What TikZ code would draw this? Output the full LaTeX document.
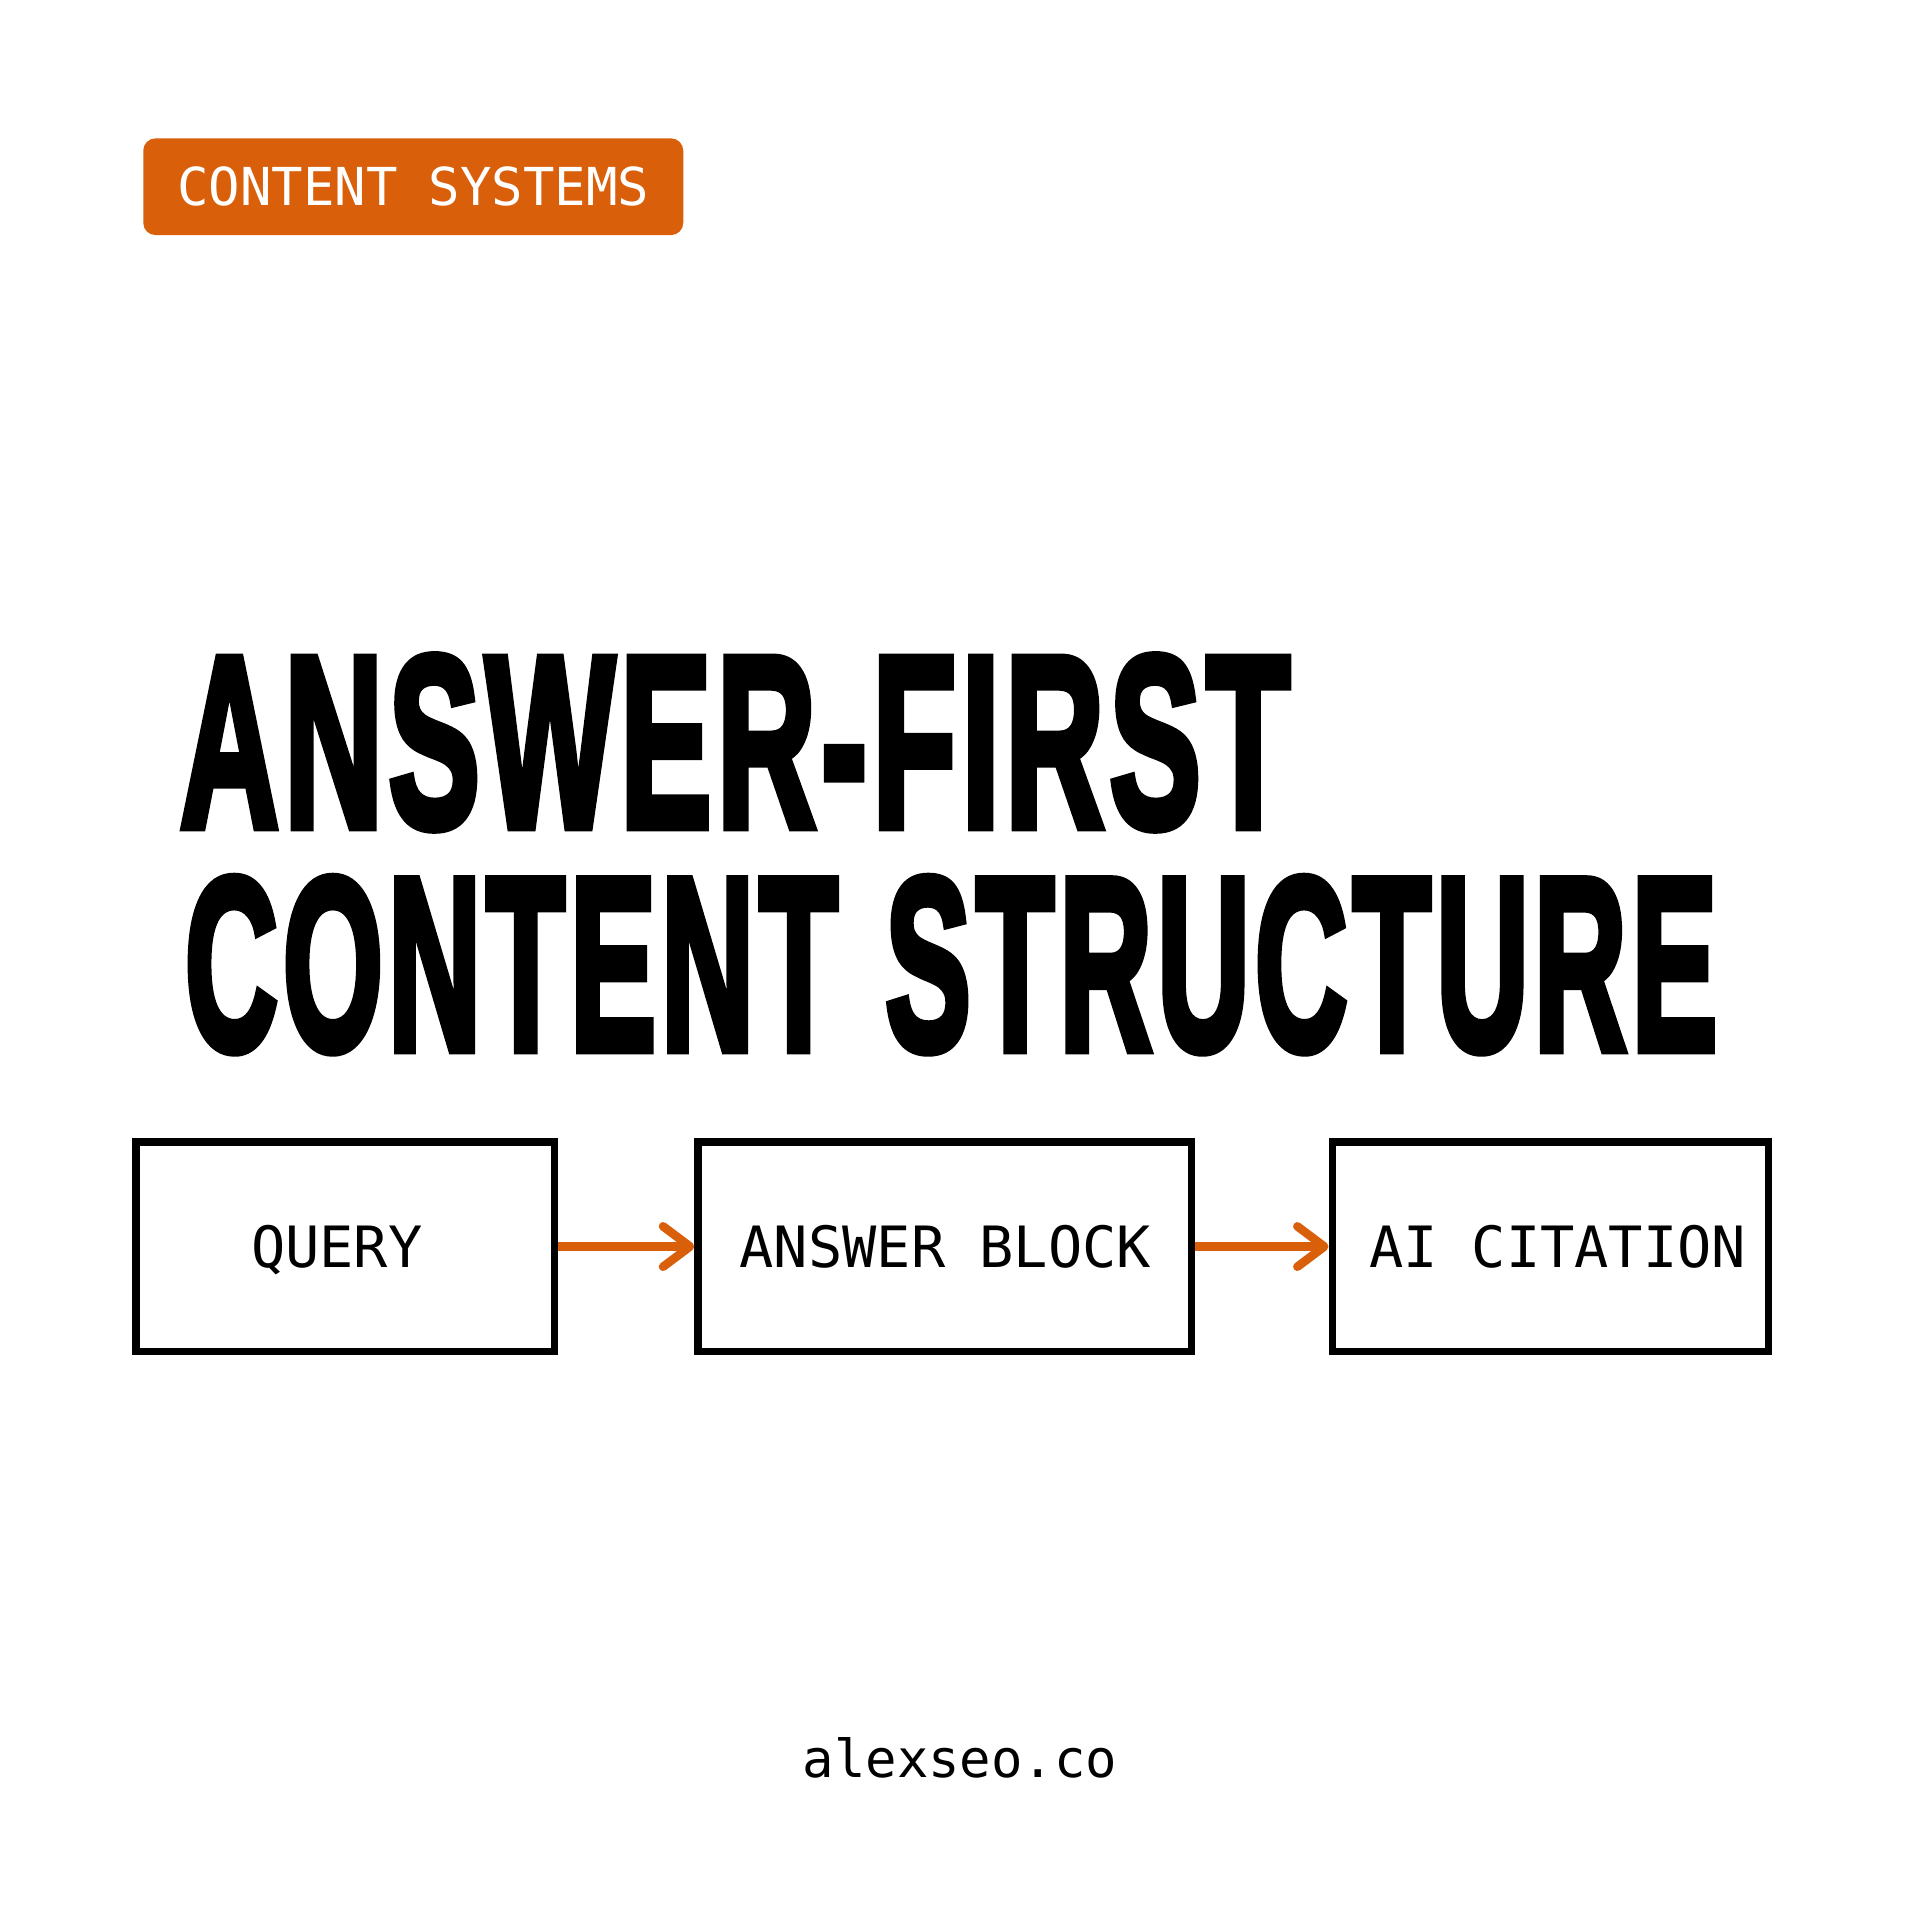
\documentclass[tikz,border=0pt]{standalone}
\usepackage{fontspec}
\usepackage{graphicx}
\usetikzlibrary{arrows.meta}
\newfontfamily\monofont{DejaVu Sans Mono}
\newfontfamily\titlefont{Liberation Sans}[BoldFeatures={FakeBold=4}, LetterSpace=4]
\definecolor{accent}{HTML}{D95F0B}
\tikzset{
  tagbox/.style={fill=accent, rounded corners=10pt, minimum width=441pt, minimum height=79pt,
    inner sep=0pt, text=white, font=\monofont\fontsize{42.7pt}{50pt}\selectfont},
  titletext/.style={inner sep=0pt, outer sep=0pt, text=black, font=\titlefont\bfseries},
  flowbox/.style={draw=black, line width=6pt, minimum height=171pt, inner sep=0pt},
  boxlabel/.style={inner sep=0pt, anchor=base, text=black, font=\monofont\fontsize{46.5pt}{54pt}\selectfont},
  flowarrow/.style={draw=accent, line width=7pt, -{Straight Barb[length=22pt, width=33pt, round]}},
  footer/.style={inner sep=0pt, anchor=base, text=black, font=\monofont\fontsize{42.7pt}{50pt}\selectfont}
}
\begin{document}
\begin{tikzpicture}[x=1pt, y=-1pt]
  \fill[white] (0,0) rectangle (1568,1568);
  \useasboundingbox (0,0) rectangle (1568,1568);

  % tag
  \node[tagbox] (tag) at (337.5,152.5) {CONTENT SYSTEMS};

  % title
  \node[titletext, anchor=base west] (t1) at (147,675) {\resizebox{906pt}{139pt}{ANSWER-FIRST}};
  \node[titletext, anchor=base west] (t2) at (151,857) {\resizebox{533pt}{140pt}{CONTENT}};
  \node[titletext, anchor=base west] (t3) at (723,857) {\resizebox{679pt}{140pt}{STRUCTURE}};

  % flow boxes
  \node[flowbox, minimum width=342pt] (q) at (282,1018) {};
  \node[flowbox, minimum width=403pt] (a) at (771.5,1018) {};
  \node[flowbox, minimum width=356pt] (c) at (1266,1018) {};

  \node[boxlabel] (ql) at (275,1035) {QUERY};
  \node[boxlabel] (al) at (772,1035) {ANSWER BLOCK};
  \node[boxlabel] (cl) at (1272,1035) {AI CITATION};

  \draw[flowarrow] (q.east) -- (a.west);
  \draw[flowarrow] (a.east) -- (c.west);

  % footer
  \node[footer] (site) at (784,1452) {alexseo.co};
\end{tikzpicture}
\end{document}
